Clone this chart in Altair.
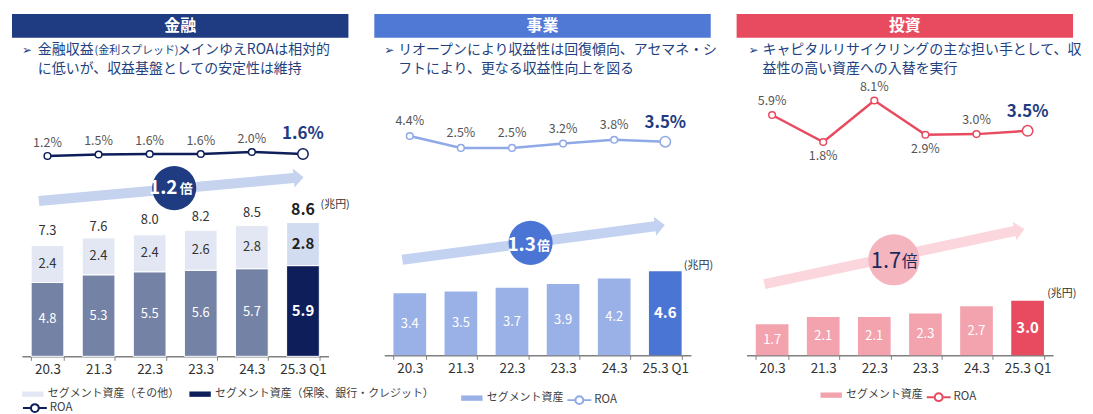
import altair as alt
import pandas as pd

FONT = "Noto Sans CJK JP"
W = 338

# ---------------- data ----------------
categories = ["20.3", "21.3", "22.3", "23.3", "24.3", "25.3 Q1"]

titles = ["金融", "事業", "投資"]
fin_sub_parts = ["金融収益", "(金利スプレッド)", "メインゆえROAは相対的"]
fin_sub_line2 = "に低いが、収益基盤としての安定性は維持"
biz_sub_lines = ["リオープンにより収益性は回復傾向、アセマネ・シ", "フトにより、更なる収益性向上を図る"]
inv_sub_lines = ["キャピタルリサイクリングの主な担い手として、収", "益性の高い資産への入替を実行"]

fin_core = [4.8, 5.3, 5.5, 5.6, 5.7, 5.9]
fin_other = [2.4, 2.4, 2.4, 2.6, 2.8, 2.8]
fin_total = [7.3, 7.6, 8.0, 8.2, 8.5, 8.6]
fin_roa = [1.2, 1.5, 1.6, 1.6, 2.0, 1.6]
fin_roa_side = ["above"] * 6

biz_assets = [3.4, 3.5, 3.7, 3.9, 4.2, 4.6]
biz_roa = [4.4, 2.5, 2.5, 3.2, 3.8, 3.5]
biz_roa_side = ["above"] * 6

inv_assets = [1.7, 2.1, 2.1, 2.3, 2.7, 3.0]
inv_roa = [5.9, 1.8, 8.1, 2.9, 3.0, 3.5]
inv_roa_side = ["above", "below", "above", "below", "above", "above"]

multiples = ["1.2", "1.3", "1.7"]
multiple_unit = "倍"
unit_label = "(兆円)"
LEG_OTHER = "セグメント資産（その他）"
LEG_CORE = "セグメント資産（保険、銀行・クレジット）"
LEG_SEG = "セグメント資産"
ROA_NAME = "ROA"

NAVY = "#1F3B82"
SUB_COLOR = "#223F80"

ARROW_PATH = "M-1,-0.038L0.925,-0.038L0.925,-0.072L1,0L0.925,0.072L0.925,0.038L-1,0.038Z"
SWATCH_PATH = "M-1,-0.25H1V0.25H-1Z"
ROA_PATH = "M-1,0H-0.33M0.33,0A0.33,0.33,0,1,1,-0.33,0A0.33,0.33,0,1,1,0.33,0M0.33,0H1"


def xenc():
    return alt.X(
        "cat:N", sort=categories,
        scale=alt.Scale(domain=categories, range=[10, 318], paddingInner=0.36, paddingOuter=0.18),
        axis=alt.Axis(title=None, labelAngle=0, domainColor="#808080", domainWidth=1.5,
                      tickColor="#808080", tickWidth=1, tickSize=4, tickBand="extent",
                      labelFont=FONT, labelFontSize=13.5, labelColor="#333333", labelPadding=2,
                      grid=False))


def text_at(txt, x, y, size, color, weight="normal", align="left", font=FONT):
    return alt.Chart(pd.DataFrame({"t": [txt]})).mark_text(
        font=font, fontSize=size, fontWeight=weight, color=color, align=align, baseline="middle"
    ).encode(x=alt.value(x), y=alt.value(y), text="t:N")


def header_layers(title, color):
    rect = alt.Chart(pd.DataFrame({"t": [title]})).mark_rect(color=color).encode(
        x=alt.value(0), x2=alt.value(W), y=alt.value(0), y2=alt.value(24))
    return [rect, text_at(title, W / 2, 12.5, 16, "white", "bold", "center")]


def subtitle_layers(bullet_x, segs):
    out = [text_at("➢", bullet_x, 36, 12, SUB_COLOR, font="DejaVu Sans")]
    for t, x, y, s in segs:
        out.append(text_at(t, x, y, s, SUB_COLOR))
    return out


def badge_layers(cx, cy, L, ang, acolor, ccx, ccy, r, ccolor, num, nx, ux, ty, tcolor, nsize, usize, weight):
    one = pd.DataFrame({"k": [0]})
    arrow = alt.Chart(one).mark_point(shape=ARROW_PATH, filled=True, color=acolor, opacity=1,
                                      strokeWidth=0, size=L * L, angle=ang).encode(
        x=alt.value(cx), y=alt.value(cy))
    circ = alt.Chart(one).mark_point(shape="circle", filled=True, color=ccolor, opacity=1,
                                     strokeWidth=0, size=3.1416 * r * r).encode(
        x=alt.value(ccx), y=alt.value(ccy))
    return [arrow, circ,
            text_at(num, nx, ty, nsize, tcolor, weight, "center"),
            text_at(multiple_unit, ux, ty + 1, usize, tcolor, weight, "center")]


def roa_layers(values, sides, domain, color, dy_above, dy_below, dy_last, lx, ly):
    df = pd.DataFrame({"cat": categories, "roa": values, "side": sides, "series": [ROA_NAME] * 6})
    df["last"] = df["cat"] == categories[-1]
    base = alt.Chart(df).transform_calculate(label="format(datum.roa, '.1f') + '%'")
    Y = alt.Y("roa:Q", scale=alt.Scale(domain=domain, nice=False, zero=False), axis=None)
    line = base.mark_line(strokeWidth=2.5).encode(
        x=xenc(), y=Y,
        stroke=alt.Stroke("series:N", scale=alt.Scale(domain=[ROA_NAME], range=[color]),
                          legend=alt.Legend(title=None, orient="none", legendX=lx, legendY=ly,
                                            symbolType=ROA_PATH, symbolSize=576, symbolStrokeWidth=2,
                                            symbolFillColor="white", labelFont=FONT,
                                            labelFontSize=11.5, labelColor="#404040", labelOffset=2)))
    pts = base.transform_filter("!datum.last").mark_point(
        filled=True, fill="white", stroke=color, strokeWidth=1.5, size=45, opacity=1).encode(x=xenc(), y=Y)
    big = base.transform_filter("datum.last").mark_point(
        filled=True, fill="white", stroke=color, strokeWidth=1.5, size=110, opacity=1).encode(x=xenc(), y=Y)
    above = base.transform_filter("datum.side == 'above' && !datum.last").mark_text(
        font=FONT, fontSize=12.5, color="#555555", dy=dy_above, baseline="middle").encode(
        x=xenc(), y=Y, text="label:N")
    below = base.transform_filter("datum.side == 'below' && !datum.last").mark_text(
        font=FONT, fontSize=12.5, color="#555555", dy=dy_below, baseline="middle").encode(
        x=xenc(), y=Y, text="label:N")
    last = base.transform_filter("datum.last").mark_text(
        font=FONT, fontSize=17, fontWeight="bold", color=NAVY, dy=dy_last, baseline="middle").encode(
        x=xenc(), y=Y, text="label:N")
    return [line, pts, big, above, below, last]


def bar_legend(values, lx, ly):
    return alt.Legend(title=None, orient="none", legendX=lx, legendY=ly, values=values,
                      direction="horizontal", symbolType=SWATCH_PATH, symbolSize=462,
                      symbolStrokeWidth=0, labelFont=FONT, labelFontSize=11, labelLimit=500,
                      labelColor="#404040", labelOffset=4, columnPadding=10)


# ---------------- panel 1: 金融 ----------------
H1 = 344
fin_df = pd.DataFrame({"cat": categories * 2, "value": fin_core + fin_other,
                       "seg": ["core"] * 6 + ["other"] * 6})
fin_df["ord"] = (fin_df["seg"] == "other").astype(int)
fin_df["last"] = fin_df["cat"] == categories[-1]
fin_df["grp"] = [
    (LEG_CORE if l else "core_base") if s == "core" else ("other_last" if l else LEG_OTHER)
    for s, l in zip(fin_df["seg"], fin_df["last"])]
fin_Y = alt.Scale(domain=[0, 22.27], nice=False)

fin_bars = alt.Chart(fin_df).mark_bar(stroke="white", strokeWidth=1).encode(
    x=xenc(),
    y=alt.Y("value:Q", stack="zero", scale=fin_Y, axis=None),
    color=alt.Color("grp:N",
                    scale=alt.Scale(domain=[LEG_OTHER, LEG_CORE, "core_base", "other_last"],
                                    range=["#E2E7F3", "#0D1E5A", "#7482A5", "#D2DCF0"]),
                    legend=bar_legend([LEG_OTHER, LEG_CORE], 10, 371)),
    order=alt.Order("ord:Q"))

seg_base = alt.Chart(fin_df).transform_stack(
    stack="value", groupby=["cat"], sort=[alt.SortField("ord", order="ascending")], as_=["v0", "v1"]
).transform_calculate(mid="(datum.v0 + datum.v1) / 2")
segY = alt.Y("mid:Q", scale=fin_Y, axis=None)
fin_seg_layers = []
for seg, col in [("core", "white"), ("other", "#333333")]:
    fin_seg_layers.append(seg_base.transform_filter(f"datum.seg == '{seg}' && !datum.last").mark_text(
        font=FONT, fontSize=13, color=col, baseline="middle").encode(
        x=xenc(), y=segY, text=alt.Text("value:Q", format=".1f")))
    fin_seg_layers.append(seg_base.transform_filter(f"datum.seg == '{seg}' && datum.last").mark_text(
        font=FONT, fontSize=15, fontWeight="bold", color=col if seg == "core" else "#222222",
        baseline="middle").encode(
        x=xenc(), y=segY, text=alt.Text("value:Q", format=".1f")))

tot_df = pd.DataFrame({"cat": categories, "total": fin_total})
tot_df["last"] = tot_df["cat"] == categories[-1]
totY = alt.Y("total:Q", scale=fin_Y, axis=None)
fin_tot = alt.Chart(tot_df).transform_filter("!datum.last").mark_text(
    font=FONT, fontSize=13, color="#333333", dy=-13, baseline="middle").encode(
    x=xenc(), y=totY, text=alt.Text("total:Q", format=".1f"))
fin_tot_last = alt.Chart(tot_df).transform_filter("datum.last").mark_text(
    font=FONT, fontSize=16, fontWeight="bold", color="#222222", dy=-14, baseline="middle").encode(
    x=xenc(), y=totY, text=alt.Text("total:Q", format=".1f"))

p1_layers = (header_layers(titles[0], "#1F3B82")
             + subtitle_layers(10, [(fin_sub_parts[0], 26, 36, 14), (fin_sub_parts[1], 83, 37, 11),
                                    (fin_sub_parts[2], 166, 36, 14), (fin_sub_line2, 26, 55, 14)])
             + badge_layers(160, 176, 267, 354.84, "#C5D3EF", 163, 175, 25, NAVY,
                            multiples[0], 152, 175, 175, "white", 19, 13, "bold")
             + [fin_bars] + fin_seg_layers + [fin_tot, fin_tot_last]
             + roa_layers(fin_roa, fin_roa_side, [-39.06, 29.74], "#0D1E5A", -13.5, 14, -20, 10, 383)
             + [text_at(unit_label, 310, 192, 11, "#333333")])
p1 = alt.layer(*p1_layers).resolve_scale(y="independent").properties(width=W, height=H1)


# ---------------- panels 2 & 3 ----------------
def simple_panel(title, hcolor, sub_lines, sub_x, bullet_x, values, bar_dom, ncol, hcol,
                 badge, roa_vals, roa_sides, roa_dom, roa_col, roa_dys, leg_bar, leg_roa, unit_pos):
    H = 343
    df = pd.DataFrame({"cat": categories, "value": values})
    df["last"] = df["cat"] == categories[-1]
    df["grp"] = [("hl" if l else LEG_SEG) for l in df["last"]]
    Ys = alt.Scale(domain=bar_dom, nice=False)
    bars = alt.Chart(df).mark_bar().encode(
        x=xenc(), y=alt.Y("value:Q", scale=Ys, axis=None),
        color=alt.Color("grp:N", scale=alt.Scale(domain=[LEG_SEG, "hl"], range=[ncol, hcol]),
                        legend=bar_legend([LEG_SEG], *leg_bar)))
    lb = alt.Chart(df).transform_calculate(mid="datum.value / 2")
    lab = lb.transform_filter("!datum.last").mark_text(
        font=FONT, fontSize=13, color="white", baseline="middle").encode(
        x=xenc(), y=alt.Y("mid:Q", scale=Ys, axis=None), text=alt.Text("value:Q", format=".1f"))
    lab_last = lb.transform_filter("datum.last").mark_text(
        font=FONT, fontSize=15, fontWeight="bold", color="white", baseline="middle").encode(
        x=xenc(), y=alt.Y("mid:Q", scale=Ys, axis=None), text=alt.Text("value:Q", format=".1f"))
    layers = (header_layers(title, hcolor)
              + subtitle_layers(bullet_x, [(sub_lines[0], sub_x, 36, 14), (sub_lines[1], sub_x, 55, 14)])
              + badge_layers(*badge)
              + [bars, lab, lab_last]
              + roa_layers(roa_vals, roa_sides, roa_dom, roa_col, *roa_dys, *leg_roa)
              + [text_at(unit_label, unit_pos[0], unit_pos[1], 11, "#333333")])
    return alt.layer(*layers).resolve_scale(y="independent").properties(width=W, height=H)


p2 = simple_panel(titles[1], "#5079D6", biz_sub_lines, 24, 10, biz_assets, [0, 18.69],
                  "#9AB1E7", "#4B75D5",
                  (160, 229.5, 266, 352.45, "#C4D2F1", 157, 230, 25, "#4B75D5",
                   multiples[1], 148, 170, 232, "white", 19, 13, "bold"),
                  biz_roa, biz_roa_side, [-30.57, 23.87], "#8FA8E6", (-15, 14, -19),
                  (87, 375), (193, 375), (311, 253))

p3 = simple_panel(titles[2], "#E84B5F", inv_sub_lines, 26, 12, inv_assets, [0, 18.74],
                  "#F3A3AE", "#E84B5F",
                  (158.5, 243.75, 267, 348.0, "#FBD7DD", 158, 247, 29, "#F5B5BE",
                   multiples[2], 150, 174, 248, "#1B2A5C", 22, 16, "normal"),
                  inv_roa, inv_roa_side, [-30.57, 21.24], "#E84B5F", (-14, 14, -18.5),
                  (84, 372), (190, 372), (312, 281))

chart = alt.hconcat(p1, p2, p3, spacing=26, bounds="flush").resolve_scale(
    color="independent", stroke="independent"
).resolve_legend(color="independent", stroke="independent").properties(
    padding={"left": 4, "top": 5, "right": 2, "bottom": 0}
).configure_view(stroke=None)

chart.save("out.html", embed_options={"renderer": "svg", "actions": False})
